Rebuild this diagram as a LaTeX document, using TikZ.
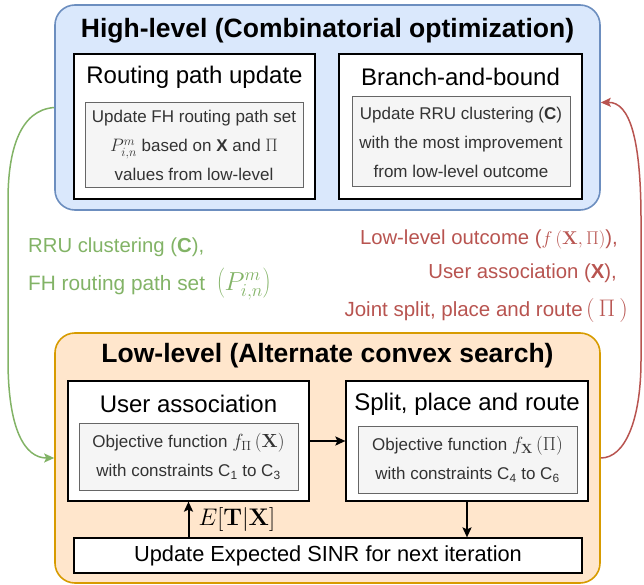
\RequirePackage{fix-cm}
\documentclass[tikz,border=0pt]{standalone}
\usepackage[no-math]{fontspec}
\setmainfont{Liberation Sans}
\usetikzlibrary{arrows.meta,calc}

\definecolor{hiFill}{HTML}{DAE8FC}
\definecolor{hiLine}{HTML}{6C8EBF}
\definecolor{loFill}{HTML}{FFE6CC}
\definecolor{loLine}{HTML}{D79B00}
\definecolor{detFill}{HTML}{F5F5F5}
\definecolor{detLine}{HTML}{666666}
\definecolor{detText}{HTML}{333333}
\definecolor{fbGreen}{HTML}{82B366}
\definecolor{fbRed}{HTML}{B85450}

% math set at a size of its own inside a line of text
\newcommand{\sizedmath}[2]{{\fontsize{#1}{#1}\selectfont$#2$}}

\tikzset{
  level/.style={line width=1.6pt, rounded corners=20pt, inner sep=0pt},
  hibox/.style={level, fill=hiFill, draw=hiLine},
  lobox/.style={level, fill=loFill, draw=loLine},
  stage/.style={draw=black, fill=white, line width=1.2pt, inner sep=0pt},
  detail/.style={draw=detLine, fill=detFill, line width=1pt, text=detText,
    align=center, inner sep=0pt, font=\fontsize{17}{29}\selectfont},
  heading/.style={font=\fontsize{26.5}{30}\selectfont\bfseries, inner sep=0pt},
  stagetitle/.style={font=\fontsize{24}{28}\selectfont, inner sep=0pt},
  note/.style={font=\fontsize{20.3}{24}\selectfont, inner sep=0pt},
  flow/.style={line width=2pt, -{Stealth[length=10pt,width=9pt,inset=2pt]}},
  feedback/.style={line width=1.5pt, -{Stealth[length=10pt,width=9pt,inset=2pt]}},
}

\begin{document}
\begin{tikzpicture}[x=1pt,y=-1pt]
\useasboundingbox (0,0) rectangle (644,585);

% ---- high level ----
\node[hibox, minimum width=545pt, minimum height=205pt] (hl) at (327.5,107.5) {};
\node[heading] (hlt) at (327.5,31) {High-level (Combinatorial optimization)};

\node[stage, minimum width=241pt, minimum height=145pt] (rpu) at (194.5,126.5) {};
\node[stagetitle] (rput) at (194.5,77) {Routing path update};
\node[detail, minimum width=218pt, minimum height=85pt] (rpud) at (194,145.5)
  {Update FH routing path set\\ \sizedmath{18}{P^m_{i,n}}\ based on \textbf{X} and \sizedmath{18}{\Pi}\\ values from low-level};

\node[stage, minimum width=243pt, minimum height=145pt] (bnb) at (460.5,126.5) {};
\node[stagetitle] (bnbt) at (460.5,77) {Branch-and-bound};
\node[detail, minimum width=218pt, minimum height=90pt] (bnbd) at (461,142)
  {Update RRU clustering (\textbf{C})\\ with the most improvement\\ from low-level outcome};

% ---- low level ----
\node[lobox, minimum width=545pt, minimum height=250pt] (ll) at (327.5,458) {};
\node[heading] (llt) at (327.5,356) {Low-level (Alternate convex search)};

\node[stage, minimum width=241pt, minimum height=120pt] (ua) at (188.5,441) {};
\node[stagetitle] (uat) at (188.5,404) {User association};
\node[detail, minimum width=219pt, minimum height=67pt] (uad) at (188.5,456.5)
  {Objective function \sizedmath{19}{f_{\Pi}\left(\mathbf{X}\right)}\\ with constraints C\textsubscript{1} to C\textsubscript{3}};

\node[stage, minimum width=242pt, minimum height=120pt] (spr) at (467,441) {};
\node[stagetitle] (sprt) at (467,404) {Split, place and route};
\node[detail, minimum width=219pt, minimum height=67pt] (sprd) at (467.5,459.5)
  {Objective function \sizedmath{19}{f_{\mathbf{X}}\left(\Pi\right)}\\ with constraints C\textsubscript{4} to C\textsubscript{6}};

\node[stage, minimum width=508pt, minimum height=35pt,
      font=\fontsize{21.8}{25}\selectfont] (upd) at (328,555.5)
  {Update Expected SINR for next iteration};

% ---- flows inside the low level ----
\draw[flow] (ua.east) -- (spr.west);
\draw[flow] (spr.south) -- (spr.south |- upd.north);
\draw[flow] (ua.south |- upd.north) -- (ua.south)
  node[anchor=west, pos=0.5, xshift=9pt, inner sep=0pt] (esinr) {\sizedmath{24}{E[\mathbf{T}|\mathbf{X}]}};

% ---- feedback between the levels ----
\draw[feedback, draw=fbGreen] (hl.west) .. controls (20,110) and (8,150) .. (8,200)
  -- (8,360) .. controls (8,430) and (25,458) .. (ll.west);
\draw[feedback, draw=fbRed] (ll.east) .. controls (625,458) and (641,420) .. (641,360)
  -- (641,220) .. controls (641,140) and (630,102) .. ([yshift=5pt]hl.east);

\node[note, text=fbGreen, anchor=base west] (down1) at (28,252) {RRU clustering (\textbf{C}),};
\node[note, text=fbGreen, anchor=base west, font=\fontsize{20.8}{24}\selectfont] (down2) at (28,290)
  {FH routing path set\ \ \sizedmath{26}{\left(P^m_{i,n}\right)}};

\node[note, text=fbRed, anchor=base east] (up1) at (618,244)
  {Low-level outcome (\sizedmath{18.5}{f\left(\mathbf{X},\Pi\right)}),};
\node[note, text=fbRed, anchor=base east] (up2) at (617,278) {User association (\textbf{X}),};
\node[note, text=fbRed, anchor=base east, font=\fontsize{20.5}{24}\selectfont] (up3) at (628,316)
  {Joint split, place and route\,\sizedmath{24}{(\,\Pi\,)}};
\end{tikzpicture}
\end{document}
